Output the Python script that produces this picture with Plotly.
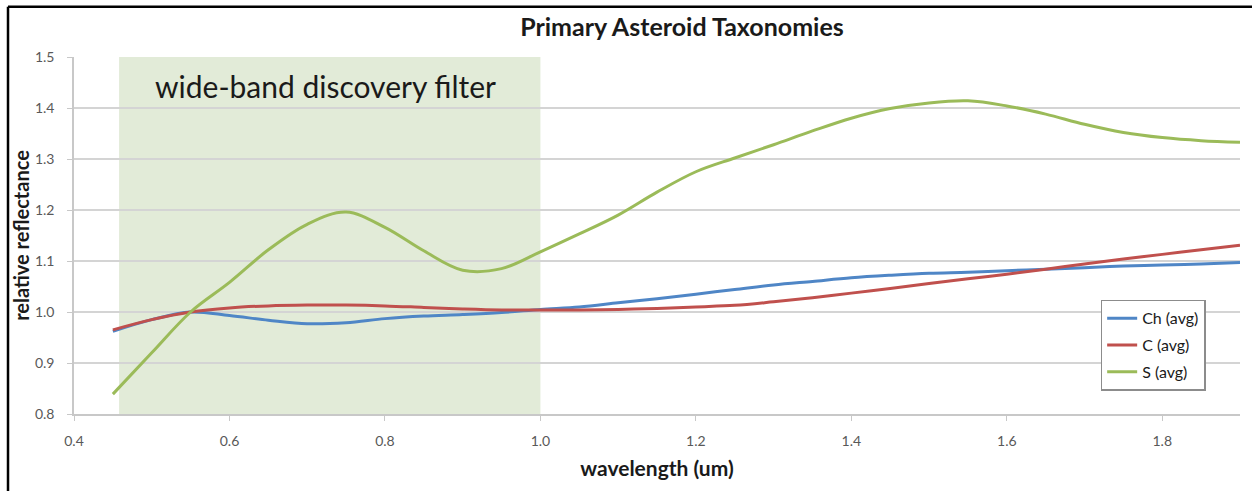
import plotly.graph_objects as go

wavelength = [0.45, 0.5, 0.55, 0.6, 0.65, 0.7, 0.75, 0.8, 0.85, 0.9, 0.95, 1.0, 1.05, 1.1, 1.15,
              1.2, 1.25, 1.3, 1.35, 1.4, 1.45, 1.5, 1.55, 1.6, 1.65, 1.7, 1.75, 1.8, 1.85, 1.9]
ch_avg = [0.962, 0.985, 1.0, 0.993, 0.984, 0.977, 0.979, 0.987, 0.992, 0.995, 0.999, 1.005, 1.010,
          1.018, 1.026, 1.035, 1.044, 1.053, 1.060, 1.067, 1.072, 1.076, 1.078, 1.081, 1.084, 1.087,
          1.090, 1.092, 1.094, 1.097]
c_avg = [0.965, 0.985, 1.0, 1.008, 1.012, 1.0135, 1.0135, 1.012, 1.009, 1.006, 1.004, 1.004, 1.004,
         1.005, 1.007, 1.010, 1.013, 1.020, 1.028, 1.037, 1.046, 1.056, 1.065, 1.074, 1.084, 1.094,
         1.104, 1.113, 1.122, 1.131]
s_avg = [0.839, 0.920, 1.0, 1.058, 1.122, 1.172, 1.196, 1.166, 1.120, 1.082, 1.085, 1.118, 1.153,
         1.190, 1.235, 1.275, 1.302, 1.328, 1.355, 1.380, 1.399, 1.410, 1.414, 1.404, 1.388, 1.368,
         1.352, 1.342, 1.336, 1.333]

series_names = ["Ch (avg)", "C (avg)", "S (avg)"]
series_colors = ["#4f86c6", "#c0504d", "#9bbb59"]
filter_band = [0.458, 1.0]
x_ticks = [0.4, 0.6, 0.8, 1.0, 1.2, 1.4, 1.6, 1.8]
y_ticks = [0.8, 0.9, 1.0, 1.1, 1.2, 1.3, 1.4, 1.5]

FONT = "Lato"

fig = go.Figure()
for name, vals, col in zip(series_names, [ch_avg, c_avg, s_avg], series_colors):
    fig.add_trace(go.Scatter(
        x=wavelength, y=vals, name=name, mode="lines",
        line=dict(color=col, width=3, shape="spline", smoothing=1.0),
        legendgroup=name,
    ))

# shaded discovery-filter band
fig.add_shape(type="rect", xref="x", yref="y", x0=filter_band[0], x1=filter_band[1],
              y0=0.8, y1=1.5, fillcolor="#e2ebd8", line=dict(width=0), layer="below")

fig.add_annotation(x=0.724, y=1.443, xref="x", yref="y", text="wide-band discovery filter",
                   showarrow=False, font=dict(family=FONT, size=30, color="#1a1a1a"))

# frame lines (top and left)
fig.add_shape(type="line", xref="paper", yref="paper", x0=-0.0566, x1=1.02, y0=1.1406, y1=1.1406,
              line=dict(color="black", width=2.5))
fig.add_shape(type="line", xref="paper", yref="paper", x0=-0.0566, x1=-0.0566, y0=-0.3, y1=1.1406,
              line=dict(color="black", width=2.5))

fig.update_layout(
    width=1252, height=491,
    margin=dict(l=74, r=12, t=57, b=77),
    paper_bgcolor="white", plot_bgcolor="white",
    font=dict(family=FONT, color="#595959"),
    title=dict(text="<b>Primary Asteroid Taxonomies</b>", x=0.5214, xref="paper", xanchor="center",
               y=1 - 27 / 491, yanchor="middle", font=dict(family=FONT, size=25, color="#1a1a1a")),
    showlegend=True,
    legend=dict(x=0.8805, y=0.32, xanchor="left", yanchor="top", bgcolor="white",
                bordercolor="#8c8c8c", borderwidth=1.5, tracegroupgap=3,
                font=dict(family=FONT, size=16, color="#1a1a1a"), itemwidth=30),
)
fig.update_xaxes(range=[0.4, 1.9], tickvals=x_ticks, ticktext=[f"{v:.1f}" for v in x_ticks],
                 showgrid=False, showline=True, linecolor="#c8c8c8", linewidth=1.5,
                 ticks="outside", ticklen=5, tickcolor="#c8c8c8", ticklabelstandoff=8,
                 tickfont=dict(family=FONT, size=14, color="#595959"),
                 title=dict(text="<b>wavelength (um)</b>", standoff=14,
                            font=dict(family=FONT, size=21, color="#1a1a1a")),
                 zeroline=False)
fig.update_yaxes(range=[0.8, 1.5], tickvals=y_ticks, ticktext=[f"{v:.1f}" for v in y_ticks],
                 showgrid=True, gridcolor="#d4d4d4", gridwidth=1.5,
                 showline=True, linecolor="#c8c8c8", linewidth=1.5,
                 ticks="outside", ticklen=5, tickcolor="#c8c8c8", ticklabelstandoff=10,
                 tickfont=dict(family=FONT, size=14, color="#595959"),
                 title=dict(text="<b>relative reflectance</b>", standoff=0,
                            font=dict(family=FONT, size=20, color="#1a1a1a")),
                 zeroline=False)

fig.write_html("out.html")
